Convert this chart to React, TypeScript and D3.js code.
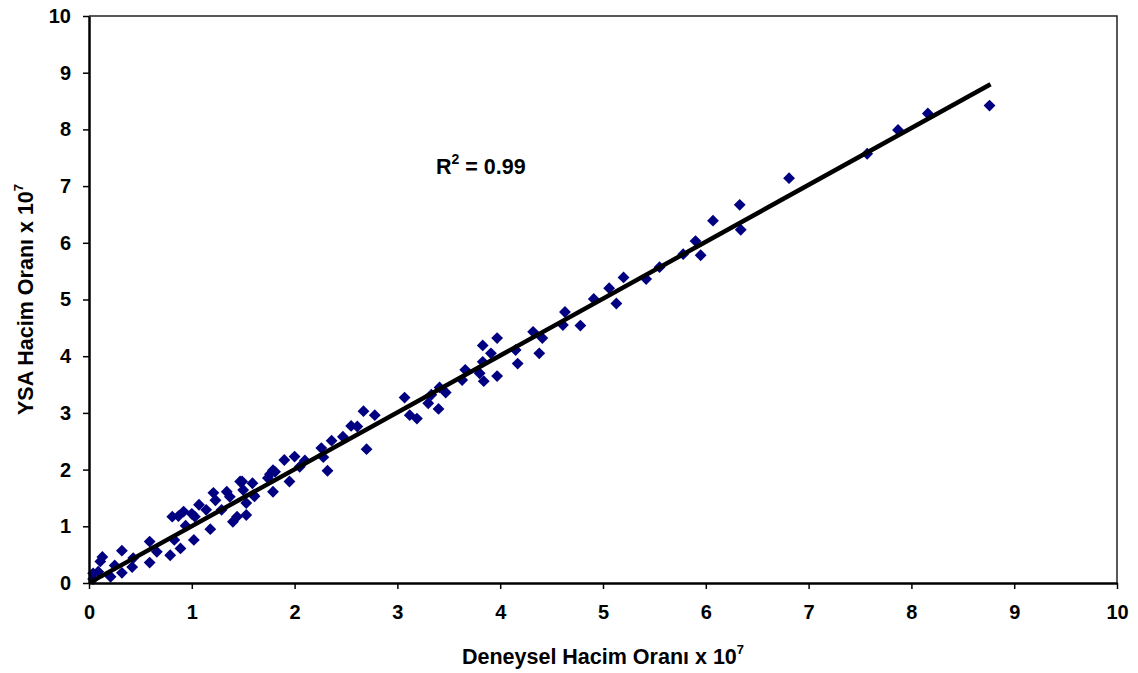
import { useEffect, useRef } from 'react'
import * as d3 from 'd3'

// experimental (x) vs ANN predicted (y), both x 10^7
const EXP = [
  0.04, 0.04, 0.09, 0.11, 0.13, 0.21, 0.25, 0.32, 0.32, 0.42, 0.43, 0.59, 0.59, 0.66, 0.79, 0.83,
  0.89, 0.81, 0.87, 0.92, 0.94, 1.02, 1.0, 1.03, 1.07, 1.14, 1.18, 1.21, 1.23, 1.29, 1.34, 1.37,
  1.4, 1.44, 1.47, 1.5, 1.53, 1.53, 1.59, 1.61, 1.74, 1.79, 1.81, 1.6, 1.49, 1.76, 1.79, 1.9,
  1.95, 2.0, 2.05, 2.1, 2.26, 2.28, 2.32, 2.36, 2.47, 2.55, 2.61, 2.67, 2.7, 2.78, 3.07, 3.12,
  3.19, 3.3, 3.33, 3.4, 3.41, 3.47, 3.63, 3.66, 3.8, 3.83, 3.83, 3.84, 3.91, 3.97, 3.97, 4.15,
  4.17, 4.32, 4.38, 4.41, 4.61, 4.63, 4.78, 4.91, 5.06, 5.13, 5.2, 5.42, 5.55, 5.78, 5.9, 5.95,
  6.07, 6.33, 6.34, 6.81, 7.57, 7.87, 8.16, 8.76,
]
const ANN = [
  0.07, 0.17, 0.2, 0.38, 0.46, 0.11, 0.31, 0.57, 0.18, 0.28, 0.44, 0.73, 0.36, 0.55, 0.49, 0.76,
  0.61, 1.17, 1.18, 1.26, 1.01, 0.76, 1.22, 1.17, 1.38, 1.29, 0.95, 1.59, 1.46, 1.29, 1.61, 1.52,
  1.08, 1.17, 1.79, 1.64, 1.41, 1.2, 1.76, 1.53, 1.85, 1.61, 1.96, 1.55, 1.79, 1.92, 1.99, 2.17,
  1.79, 2.23, 2.05, 2.16, 2.38, 2.22, 1.98, 2.51, 2.58, 2.77, 2.76, 3.03, 2.36, 2.96, 3.27, 2.96,
  2.9, 3.17, 3.32, 3.07, 3.45, 3.36, 3.58, 3.76, 3.7, 4.19, 3.9, 3.56, 4.05, 4.32, 3.65, 4.11,
  3.87, 4.43, 4.05, 4.32, 4.55, 4.78, 4.54, 5.01, 5.2, 4.93, 5.39, 5.36, 5.57, 5.8, 6.03, 5.78,
  6.39, 6.67, 6.23, 7.14, 7.57, 7.99, 8.28, 8.42,
]
const TICKS = [0, 1, 2, 3, 4, 5, 6, 7, 8, 9, 10]
const FIT_X = [0.02, 8.77]
const FIT_SLOPE = 1.003
const FIT_R2 = '0.99'

const W = 1138
const H = 673
const FONT = 'Liberation Sans, Arial, sans-serif'

export default function App() {
  const svgRef = useRef<SVGSVGElement>(null)

  useEffect(() => {
    if (!svgRef.current) return
    const svg = d3.select(svgRef.current)
    svg.selectAll('*').remove()

    const margin = { top: 16, right: 21, bottom: 90, left: 89 }
    const x = d3.scaleLinear().domain([0, 10]).range([margin.left, W - margin.right])
    const y = d3.scaleLinear().domain([0, 10]).range([H - margin.bottom, margin.top])

    svg.append('rect').attr('width', W).attr('height', H).attr('fill', '#fff')

    // frame (top + right)
    svg.append('path')
      .attr('d', `M${x(0)},${y(10)}H${x(10)}V${y(0)}`)
      .attr('fill', 'none')
      .attr('stroke', '#222')
      .attr('stroke-width', 1.5)

    // points
    const pts = EXP.map((v, i) => [v, ANN[i]])
    const diamond = d3.symbol().type(d3.symbolSquare).size(70)
    svg.append('g')
      .selectAll('path')
      .data(pts)
      .join('path')
      .attr('d', diamond)
      .attr('transform', (d) => `translate(${x(d[0])},${y(d[1])}) rotate(45)`)
      .attr('fill', '#000080')

    // fit line
    svg.append('line')
      .attr('x1', x(FIT_X[0]))
      .attr('y1', y(FIT_X[0] * FIT_SLOPE))
      .attr('x2', x(FIT_X[1]))
      .attr('y2', y(FIT_X[1] * FIT_SLOPE))
      .attr('stroke', '#000')
      .attr('stroke-width', 4.5)

    // axes
    const xAxis = svg.append('g')
      .attr('transform', `translate(0,${y(0)})`)
      .call(d3.axisBottom(x).tickValues(TICKS).tickSize(6).tickSizeOuter(0).tickPadding(16))
    xAxis.select('.domain').attr('stroke-width', 2.5)
    xAxis.selectAll('.tick line').attr('stroke-width', 1.5)

    const yAxis = svg.append('g')
      .attr('transform', `translate(${x(0)},0)`)
      .call(d3.axisLeft(y).tickValues(TICKS).tickSize(6).tickSizeOuter(0).tickPadding(12))
    yAxis.select('.domain').attr('stroke-width', 2.5)
    yAxis.selectAll('.tick line').attr('stroke-width', 1.5)

    svg.selectAll('.tick text')
      .attr('font-family', FONT)
      .attr('font-size', 20)
      .attr('font-weight', 'bold')
      .attr('fill', '#000')

    // x title
    const xt = svg.append('text')
      .attr('x', (x(0) + x(10)) / 2)
      .attr('y', 664)
      .attr('text-anchor', 'middle')
      .attr('font-family', FONT)
      .attr('font-size', 21.5)
      .attr('font-weight', 'bold')
    xt.append('tspan').text('Deneysel Hacim Oranı x 10')
    xt.append('tspan').attr('dy', -10).attr('font-size', 13).text('7')

    // y title
    const yt = svg.append('text')
      .attr('transform', `translate(33,${(y(0) + y(10)) / 2}) rotate(-90)`)
      .attr('text-anchor', 'middle')
      .attr('font-family', FONT)
      .attr('font-size', 21.5)
      .attr('font-weight', 'bold')
    yt.append('tspan').text('YSA Hacim Oranı x 10')
    yt.append('tspan').attr('dy', -10).attr('font-size', 13).text('7')

    // R2 label
    const r2 = svg.append('text')
      .attr('x', 436)
      .attr('y', 174)
      .attr('font-family', FONT)
      .attr('font-size', 21.5)
      .attr('font-weight', 'bold')
    r2.append('tspan').text('R')
    r2.append('tspan').attr('dy', -10).attr('font-size', 14).text('2')
    r2.append('tspan').attr('dy', 10).text(` = ${FIT_R2}`)
  }, [])

  return (
    <svg
      ref={svgRef}
      width={W}
      height={H}
      style={{ position: 'absolute', left: 0, top: 0, display: 'block' }}
    />
  )
}
